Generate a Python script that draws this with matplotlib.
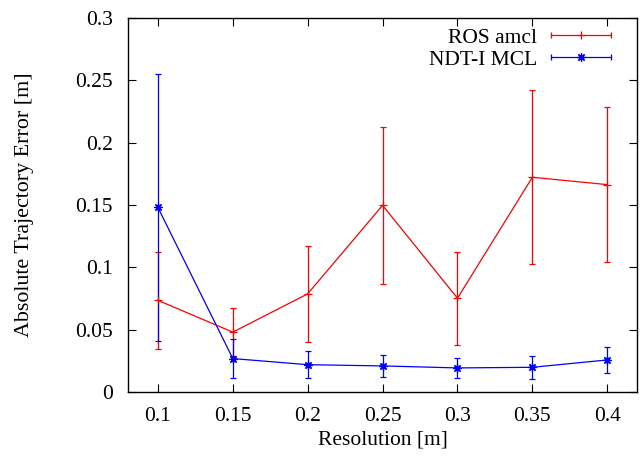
import numpy as np
import matplotlib.pyplot as plt
from matplotlib.lines import Line2D
from matplotlib.legend_handler import HandlerBase
from matplotlib.container import ErrorbarContainer

plt.rcParams['font.family'] = ['Liberation Serif', 'DejaVu Serif']

resolution = [0.1, 0.15, 0.2, 0.25, 0.3, 0.35, 0.4]
amcl_mean = [0.0735, 0.048, 0.0787, 0.1497, 0.0752, 0.1722, 0.1663]
amcl_err = [0.039, 0.0195, 0.0383, 0.063, 0.0372, 0.0698, 0.0624]
ndt_mean = [0.148, 0.0268, 0.0219, 0.0209, 0.0193, 0.0198, 0.0257]
ndt_err = [0.107, 0.0155, 0.0108, 0.0085, 0.0082, 0.0093, 0.0101]

FS = 15.5


class HandlerHBar(HandlerBase):
    # gnuplot style key sample: horizontal bar with caps, point in the middle
    def create_artists(self, legend, orig_handle, xdescent, ydescent,
                       width, height, fontsize, trans):
        src = orig_handle[0]
        c = src.get_color()
        y = height / 2 - ydescent
        x0, x1 = -xdescent, width - xdescent
        bar = Line2D([x0, x1], [y, y], color=c, lw=src.get_linewidth())
        caps = Line2D([x0, x1], [y, y], ls='none', marker='|', ms=5,
                      mew=src.get_linewidth(), color=c)
        mid = Line2D([(x0 + x1) / 2], [y], ls='none', marker=src.get_marker(),
                     ms=src.get_markersize(), mew=src.get_markeredgewidth(), color=c)
        for a in (bar, caps, mid):
            a.set_transform(trans)
        return [bar, caps, mid]


fig = plt.figure(figsize=(6.43, 4.59), dpi=100)
ax = fig.add_axes([0.199, 0.146, 0.792, 0.815])

e1 = ax.errorbar(resolution, amcl_mean, yerr=amcl_err, color='#ff0000', lw=0.9,
                 elinewidth=0.9, capsize=2.2, capthick=0.9, marker='+', ms=6, mew=0.9,
                 label='ROS amcl')
e2 = ax.errorbar(resolution, ndt_mean, yerr=ndt_err, color='#0000ff', lw=0.9,
                 elinewidth=0.9, capsize=2.2, capthick=0.9, marker=(8, 2, 0), ms=6, mew=0.9,
                 label='NDT-I MCL')

ax.set_xlim(0.08, 0.42)
ax.set_ylim(0, 0.3)
ax.set_xticks(resolution)
ax.set_xticklabels(['0.1', '0.15', '0.2', '0.25', '0.3', '0.35', '0.4'])
ax.set_yticks([0, 0.05, 0.1, 0.15, 0.2, 0.25, 0.3])
ax.set_yticklabels(['0', '0.05', '0.1', '0.15', '0.2', '0.25', '0.3'])
ax.tick_params(direction='in', top=True, right=True, length=6, width=0.8,
               labelsize=FS)
ax.tick_params(axis='x', pad=11)
ax.tick_params(axis='y', pad=11)
for s in ax.spines.values():
    s.set_linewidth(1.0)

ax.set_xlabel('Resolution [m]', fontsize=FS, va='center')
ax.set_ylabel('Absolute Trajectory Error [m]', fontsize=15.8, va='center')
ax.xaxis.set_label_coords(0.5, -0.128)
ax.yaxis.set_label_coords(-0.203, 0.5)

ax.legend(handles=[e1, e2], loc='upper right', frameon=False, markerfirst=False,
          fontsize=FS, handlelength=2.8, handletextpad=0.65, borderaxespad=0,
          borderpad=0, labelspacing=0.1, bbox_to_anchor=(0.949, 0.974),
          handler_map={ErrorbarContainer: HandlerHBar()})

fig.savefig('out.png', dpi=100)
